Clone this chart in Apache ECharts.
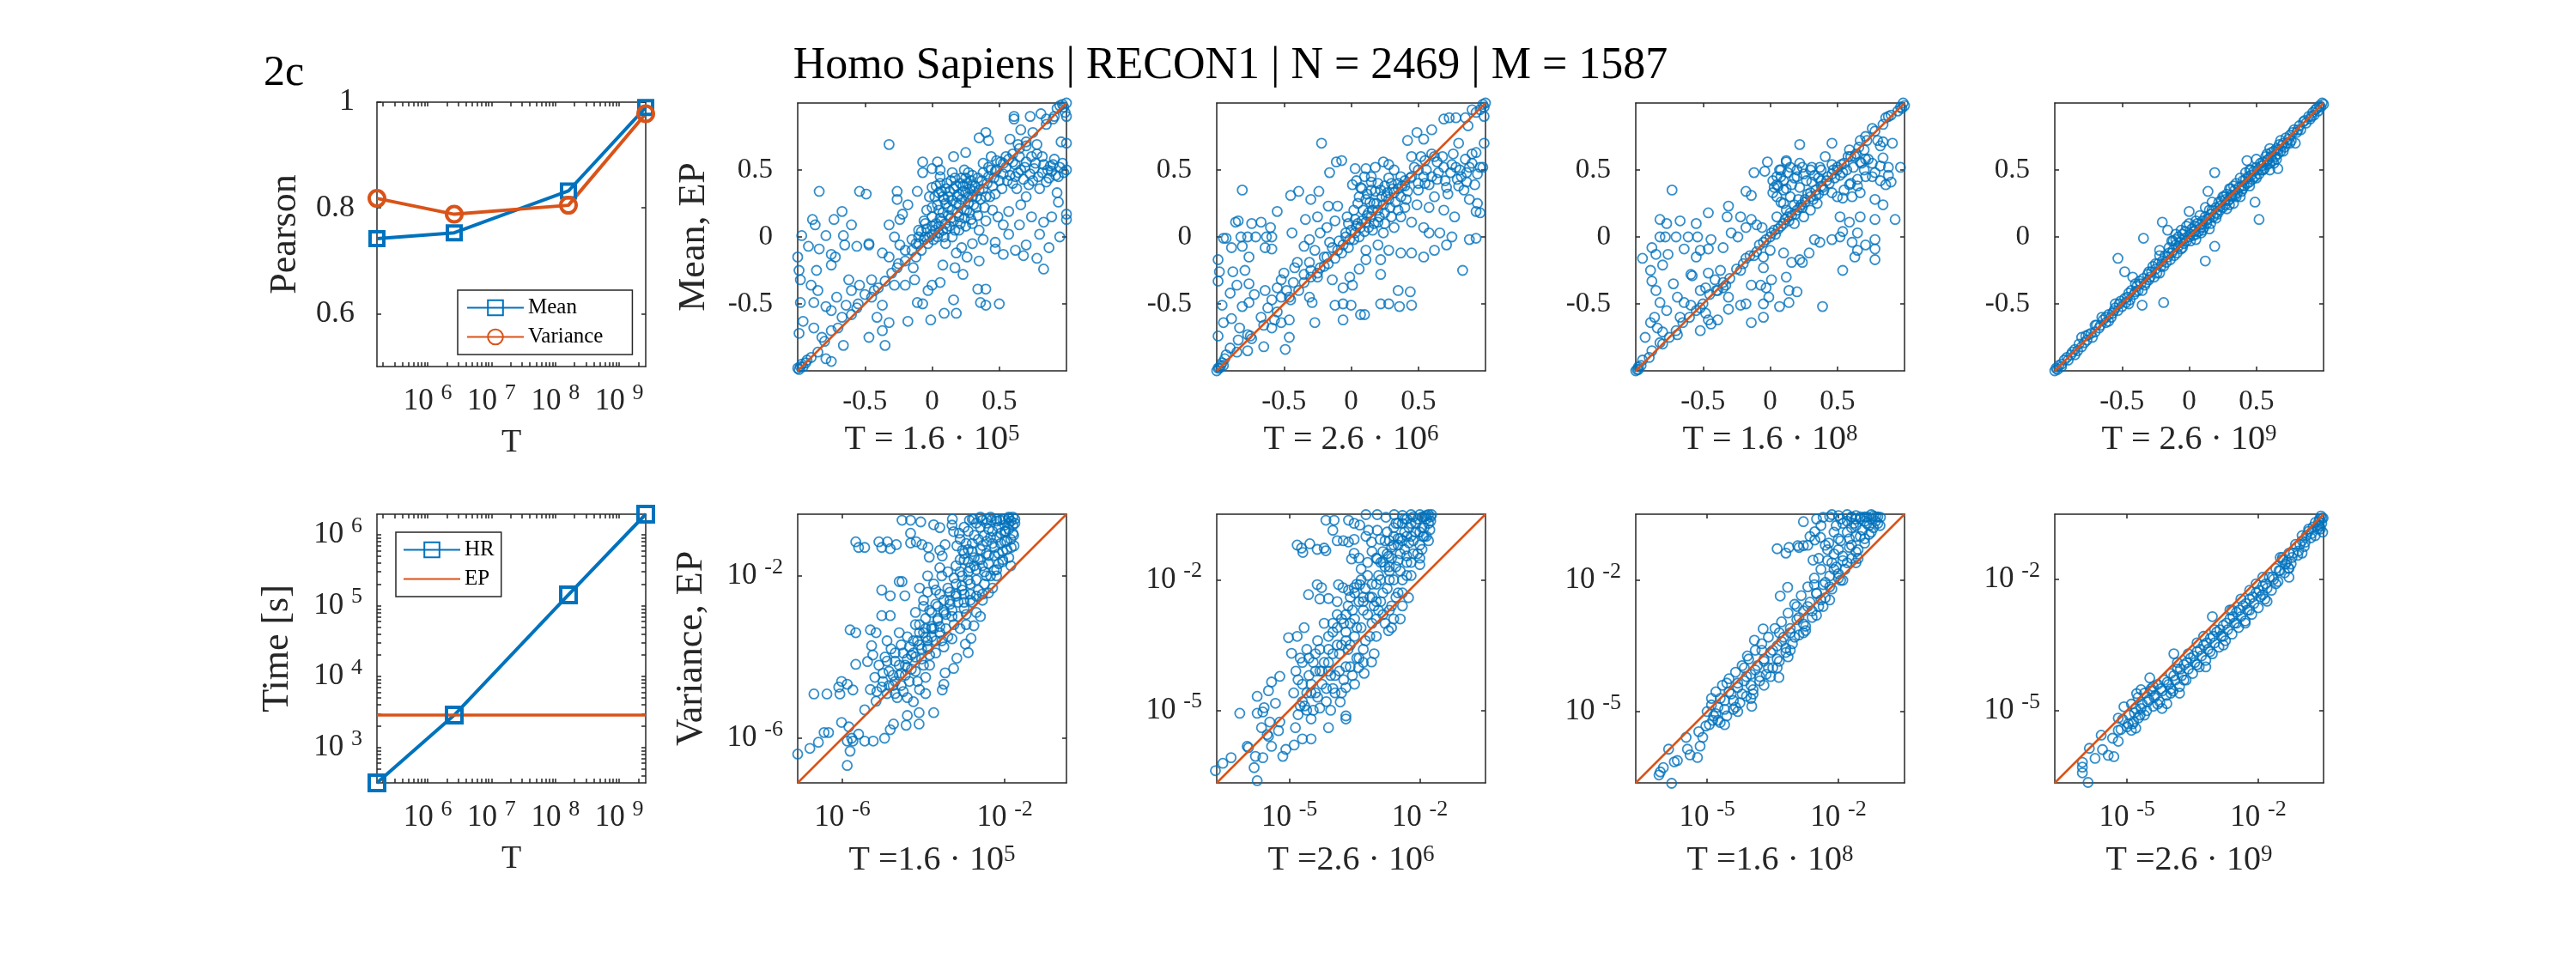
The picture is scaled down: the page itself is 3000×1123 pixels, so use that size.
<!DOCTYPE html>
<html lang="en">
<head>
<meta charset="UTF-8">
<title>Homo Sapiens | RECON1</title>
<script src="https://cdn.jsdelivr.net/npm/echarts@6/dist/echarts.min.js"></script>
<style>html,body{margin:0;padding:0;background:#fff;}#container{width:3000px;height:1123px;}</style>
</head>
<body>
<div id="container"></div>
<script>
// sampling times T of the four runs
var T = [1.6e5, 2.6e6, 1.6e8, 2.6e9];
// Pearson correlation HR vs EP
var pearsonMean = [0.742, 0.753, 0.832, 0.990];
var pearsonVar = [0.818, 0.788, 0.805, 0.978];
// run time [s]
var timeHR = [316, 2857, 1.42e5, 1.95e6];
var timeEP = [2857, 2857, 2857, 2857];

// tick labels
var pearsonTicks = [0.6, 0.8, 1];
var meanTicks = [-0.5, 0, 0.5];
var decadesT = [6, 7, 8, 9];
var decadesTime = [3, 4, 5, 6];
var varTicks = [[-6, -2], [-5, -2], [-5, -2], [-5, -2]];
// axis limits of the scatter panels (mean linear, variance as log10)
var meanLim = [-1, 1];
var varLim = [[-7.1, -0.48], [-6.67, -0.49], [-6.63, -0.49], [-6.65, -0.51]];

// mean: [HR, EP] pairs
var meanPts1 = [[1.0,1.0],[0.98,0.97],[0.95,0.98],[0.99,0.93],[1.0,0.9],[0.93,0.96],[0.97,0.99],
[0.61,0.9],[0.61,0.88],[0.73,0.9],[0.81,0.92],[0.85,0.88],[0.91,0.9],[0.66,0.8],[0.4,0.78],[0.35,0.74],[0.42,0.72],[-0.32,0.69],
[0.58,0.73],[0.64,0.69],[0.7,0.71],[0.78,0.69],[0.96,0.71],[1.0,0.7],[0.16,0.6],[0.25,0.63],
[0.44,0.6],[0.51,0.56],[0.57,0.58],[0.62,0.54],[0.7,0.56],[0.76,0.51],[0.83,0.54],[0.89,0.49],[0.94,0.45],[1.0,0.5],[0.79,0.45],[0.68,0.43],[0.62,0.45],[0.53,0.47],[0.47,0.49],[0.85,0.41],[0.72,0.39],[0.91,0.58],[0.74,0.6],[0.55,0.52],[0.66,0.5],[0.88,0.53],[0.97,0.55],[0.6,0.4],[0.8,0.36],[0.93,0.33],[0.52,0.36],[0.7,0.3],
[-0.07,0.56],[0.04,0.56],[-0.07,0.48],[0.0,0.51],[0.06,0.5],[-0.84,0.34],[-0.54,0.34],[-0.49,0.32],[-0.26,0.34],[-0.11,0.34],
[-0.97,0.01],[-0.89,0.13],[-0.87,0.09],[-0.79,0.01],[-0.73,0.13],[-0.67,0.19],[-0.66,0.01],[-0.6,0.09],[-0.65,-0.06],[-0.56,-0.07],[-0.47,-0.06],[-0.92,-0.07],[-0.84,-0.09],[-0.75,-0.13],[-0.72,-0.15],[-1.0,-0.15],[-0.99,-0.25],[-0.98,-0.32],[-0.86,-0.25],[-0.75,-0.21],[-0.9,-0.36],[-0.85,-0.4],[-0.88,-0.49],[-0.98,-0.49],[-0.79,-0.52],[-0.71,-0.45],[-0.75,-0.55],[-0.96,-0.63],[-0.88,-0.68],[-0.99,-0.72],[-0.82,-0.75],[-0.75,-0.7],[-0.67,-0.6],[-0.64,-0.51],[-0.66,-0.81],[-0.75,-0.93],[-0.79,-0.91],[-0.9,-0.9],[-0.94,-0.94],[-1.0,-0.98],[-0.98,-0.97],[-0.97,-0.95],[-0.99,-0.99],[-0.96,-0.97],
[-0.6,-0.4],[-0.54,-0.36],[-0.62,-0.32],[-0.5,-0.43],[-0.45,-0.32],[-0.43,-0.4],[-0.56,-0.53],[-0.47,-0.75],[-0.37,-0.7],[-0.35,-0.81],[-0.32,-0.64],[-0.41,-0.6],[-0.37,-0.51],[-0.28,-0.36],[-0.26,-0.23],[-0.32,-0.15],[-0.37,-0.12],[-0.47,-0.05],[-0.28,0.0],[-0.24,-0.06],[-0.32,0.09],[-0.24,0.13],[-0.22,0.17],[-0.26,0.28],[-0.18,0.24],[-0.18,-0.63],[-0.11,-0.49],[-0.07,-0.5],[-0.01,-0.62],[0.09,-0.57],[0.18,-0.57],[0.06,-0.34],[0.0,-0.36],[-0.03,-0.4],[-0.2,-0.36],[-0.13,-0.32],[-0.14,-0.23],[0.16,-0.47],[0.34,-0.39],[0.4,-0.39],[0.36,-0.49],[0.4,-0.51],[0.5,-0.5],[0.23,-0.28],[0.17,-0.23],[0.08,-0.21],[0.35,-0.18],
[0.47,-0.09],[0.53,-0.13],[0.62,-0.1],[0.68,-0.14],[0.78,-0.16],[0.83,-0.24],[0.87,-0.08],[0.95,0.0],[0.8,0.02],[0.7,-0.06],[0.57,0.02],[0.47,-0.04],[0.53,0.09],[0.65,0.09],[0.74,0.15],[0.83,0.11],[0.89,0.15],[1.0,0.17],[1.0,0.13],[0.94,0.26],[0.66,0.24],[0.57,0.19],[0.49,0.15],
[-0.3,-0.27],[-0.25,-0.2],[-0.2,-0.18],[-0.15,-0.1],[-0.12,-0.15],[-0.1,-0.05],[-0.08,-0.1],[-0.05,0.0],[-0.03,-0.05],[0.0,0.02],[0.02,0.05],[0.04,0.0],[0.05,0.08],[0.07,0.12],[0.08,0.05],[0.1,0.1],[0.12,0.16],[0.13,0.08],[0.15,0.2],[0.16,0.12],[0.18,0.25],[0.2,0.15],[0.22,0.28],[0.24,0.2],[0.25,0.33],[0.27,0.25],[0.28,0.18],[0.3,0.3],[0.32,0.38],[0.33,0.22],[0.35,0.35],[0.37,0.42],[0.4,0.3],[0.42,0.45],[0.45,0.38],[0.48,0.5],[0.5,0.42],
[0.0,0.37],[0.03,0.38],[0.06,0.4],[0.1,0.36],[0.14,0.42],[0.18,0.38],[0.22,0.44],[0.26,0.4],[0.3,0.46],[0.05,0.33],[0.12,0.3],[0.2,0.32],[0.28,0.36],[0.34,0.44],[0.38,0.48],
[0.15,0.0],[0.2,0.05],[0.25,0.08],[0.3,0.1],[0.35,0.05],[0.4,0.12],[0.45,0.2],[0.3,-0.05],[0.22,-0.08],[0.38,-0.02],[0.1,-0.05],[0.18,-0.12],[0.26,-0.15],
[-0.45,-0.45],[-0.4,-0.38],[-0.35,-0.33],[-0.55,-0.5],[-0.6,-0.58],[-0.7,-0.68],[-0.8,-0.78],[-0.85,-0.86],[-0.93,-0.92],[-0.2,-0.1],[-0.15,-0.02],[-0.1,0.05],[-0.05,0.1],[0.0,0.15],[0.05,0.2],[0.1,0.25],[0.08,0.3],[0.6,0.62],[0.65,0.66],[0.7,0.68],[0.75,0.78],[0.85,0.84],[0.9,0.88],[0.55,0.6],
[-0.12,-0.05],[-0.1,0.0],[-0.08,0.04],[-0.06,-0.02],[-0.04,0.06],[-0.02,0.0],[0.0,0.08],[0.01,-0.02],[0.03,0.1],[0.05,0.03],[0.06,0.14],[0.08,0.18],[0.09,0.0],[0.11,0.06],[0.12,0.22],[0.14,0.14],[0.15,0.27],[0.17,0.05],[0.19,0.18],[0.2,0.24],[0.21,0.1],[0.23,0.34],[0.24,0.14],[0.26,0.2],[0.27,0.3],[0.29,0.13],[0.3,0.38],[0.31,0.24],[0.33,0.3],[0.34,0.16],[0.36,0.28],[0.38,0.36],[0.39,0.22],[0.41,0.4],[0.43,0.3],[0.44,0.5],[0.46,0.44],[0.47,0.32],[0.02,0.3],[0.04,0.24],[0.07,0.34],[0.09,0.28],[0.11,0.4],[0.13,0.34],[0.16,0.36],[0.17,0.44],[0.19,0.3],[0.21,0.4],[0.23,0.38],[0.25,0.44],[0.27,0.48],[0.29,0.42],[0.31,0.34],[0.06,0.45],[0.15,0.48],[0.24,0.5],[-0.02,0.3],[-0.04,0.2],[-0.06,0.12],[0.0,0.22],[0.58,0.46],[0.64,0.48],[0.69,0.52],[0.73,0.47],[0.77,0.55],[0.82,0.48],[0.86,0.5],[0.9,0.54],[0.95,0.52],[0.98,0.48],[0.6,0.56],[0.65,0.6],[0.56,0.42],[0.75,0.42],[0.87,0.44],[0.92,0.46],[0.63,0.36],[0.53,0.55],[0.48,0.57],[0.42,0.52],[0.38,0.55],[0.82,0.6],[0.78,0.62]];

var meanPts2 = [[0.98,0.99],[0.96,0.95],[0.93,0.93],[0.9,0.95],[0.85,0.89],[0.78,0.89],[0.73,0.89],[0.69,0.88],[0.99,0.9],[1.0,1.0],[0.99,0.97],[-1.0,-1.0],[-0.98,-0.98],[-0.97,-0.96],
[0.87,0.83],[0.6,0.8],[0.49,0.78],[0.42,0.72],[0.54,0.73],[-0.22,0.7],[0.8,0.7],[0.99,0.7],[0.93,0.63],[0.85,0.58],
[0.45,0.6],[0.52,0.6],[0.6,0.62],[0.64,0.56],[0.69,0.52],[0.75,0.54],[0.81,0.5],[0.88,0.52],[0.96,0.52],[0.98,0.52],[0.79,0.43],[0.86,0.41],[0.92,0.39],[0.84,0.35],[0.88,0.28],[0.94,0.25],[0.71,0.37],[0.64,0.43],[0.58,0.39],[0.54,0.45],[0.32,0.5],[0.37,0.45],[0.28,0.54],[0.24,0.56],[0.18,0.52],[0.11,0.51],[0.03,0.51],[0.01,0.39],[0.07,0.37],[0.15,0.41],[0.22,0.35],[0.32,0.33],[0.41,0.28],[0.49,0.24],[0.58,0.22],[0.69,0.2],
[-0.11,0.56],[-0.07,0.57],[-0.16,0.48],[-0.45,0.31],[-0.39,0.34],[-0.3,0.28],[-0.24,0.34],[-0.17,0.23],[-0.1,0.23],[-0.55,0.19],[-0.81,0.35],
[-0.95,-0.01],[-0.93,-0.01],[-0.86,0.11],[-0.84,0.12],[-0.82,0.0],[-0.77,0.0],[-0.74,0.1],[-0.71,0.0],[-0.67,0.11],[-0.63,0.0],[-0.6,0.07],[-0.59,0.0],[-0.89,-0.08],[-0.81,-0.07],[-0.76,-0.15],[-0.64,-0.08],[-0.59,-0.09],
[-0.99,-0.17],[-0.98,-0.26],[-0.99,-0.33],[-0.88,-0.26],[-0.79,-0.25],[-0.85,-0.36],[-0.76,-0.35],[-0.9,-0.42],[-0.96,-0.51],[-0.81,-0.52],[-0.76,-0.49],[-0.89,-0.61],[-0.95,-0.64],[-0.83,-0.68],[-0.77,-0.73],[-0.74,-0.76],[-0.99,-0.74],[-0.84,-0.77],[-0.9,-0.83],[-0.77,-0.85],[-0.93,-0.88],[-0.96,-0.94],[-0.99,-0.98],[-0.95,-0.96],[-0.94,-0.91],
[-0.72,-0.43],[-0.67,-0.6],[-0.64,-0.4],[-0.62,-0.53],[-0.59,-0.47],[-0.55,-0.38],[-0.52,-0.32],[-0.5,-0.27],[-0.52,-0.45],[-0.48,-0.4],[-0.46,-0.45],[-0.43,-0.34],[-0.42,-0.23],[-0.39,-0.4],[-0.35,-0.34],[-0.31,-0.45],[-0.29,-0.49],[-0.46,-0.62],[-0.52,-0.64],[-0.46,-0.75],[-0.65,-0.82],[-0.49,-0.84],[-0.27,-0.64],[-0.59,-0.68],[-0.57,-0.62],
[-0.34,0.13],[-0.25,0.15],[-0.35,-0.07],[-0.44,0.03],[-0.31,-0.02],[-0.27,-0.1],[-0.23,0.03],[-0.18,0.07],[-0.12,0.12],[-0.16,-0.04],[-0.4,-0.19],[-0.31,-0.19],[-0.23,-0.23],[-0.18,-0.15],[-0.1,-0.1],[-0.06,-0.06],[-0.01,-0.02],[0.03,0.03],[0.07,0.07],[0.11,0.11],[0.15,0.15],[0.2,0.2],[0.24,0.24],[0.28,0.28],[-0.04,0.03],[0.03,0.13],[0.09,0.2],[0.11,0.28],[0.2,0.11],[0.24,0.03],[0.32,0.07],[0.37,0.15],[0.45,0.11],[0.54,0.07],[0.58,0.03],[0.66,0.03],[0.75,0.0],[0.71,-0.06],[0.62,-0.1],[0.54,-0.15],[0.45,-0.12],[0.37,-0.12],[0.28,-0.1],[0.2,-0.06],[0.11,-0.1],[0.11,-0.17],[0.22,-0.17],[0.22,-0.28],[0.06,-0.24],[-0.01,-0.3],[-0.14,-0.32],[-0.06,-0.38],[0.01,-0.36],[-0.12,-0.51],[-0.06,-0.5],[0.0,-0.51],[-0.06,-0.62],[0.07,-0.58],[0.1,-0.58],[0.22,-0.5],[0.28,-0.5],[0.36,-0.52],[0.35,-0.4],[0.44,-0.41],[0.45,-0.51],[0.83,-0.25],[0.88,-0.02],[0.93,-0.01],[0.96,0.18],[0.77,0.15],[0.93,0.19],
[0.35,0.36],[0.4,0.42],[0.45,0.45],[0.5,0.5],[0.55,0.57],[0.62,0.6],[-0.2,-0.22],[-0.25,-0.27],[-0.3,-0.3],[-0.45,-0.47],[-0.55,-0.56],[-0.65,-0.66],[-0.75,-0.74],[-0.85,-0.86],[0.05,0.1],[0.13,0.18],[0.17,0.25],[0.26,0.3],[0.3,0.4],[0.38,0.38],[0.15,0.35],[0.05,0.25],[-0.02,0.1],
[-0.2,-0.15],[-0.17,-0.2],[-0.14,-0.08],[-0.12,-0.16],[-0.09,-0.03],[-0.07,-0.12],[-0.04,0.0],[-0.02,-0.08],[0.0,0.05],[0.02,-0.02],[0.04,0.08],[0.06,0.0],[0.08,0.12],[0.1,0.04],[0.12,0.16],[0.13,0.07],[0.16,0.2],[0.17,0.1],[0.19,0.25],[0.21,0.15],[0.23,0.3],[0.25,0.18],[0.27,0.33],[0.29,0.22],[0.31,0.36],[0.33,0.26],[0.35,0.4],[0.37,0.3],[0.4,0.38],[0.42,0.34],[0.44,0.44],[0.06,0.3],[0.08,0.36],[0.12,0.32],[0.14,0.26],[0.18,0.34],[0.2,0.4],[0.25,0.38],[0.28,0.44],[0.15,0.45],[0.04,0.42],[0.1,0.45],[0.02,0.2],[-0.03,0.15],[0.5,0.35],[0.55,0.4],[0.6,0.45],[0.65,0.48],[0.7,0.42],[0.74,0.48],[0.78,0.52],[0.82,0.45],[0.86,0.48],[0.9,0.55],[0.94,0.47],[0.62,0.3],[0.72,0.32],[0.8,0.38],[0.5,0.4],[0.56,0.5],[0.47,0.52],[0.68,0.6],[0.76,0.62],[0.9,0.62],[0.3,0.15],[0.35,0.2],[0.4,0.22],[0.16,0.05],[0.25,0.1],[-0.3,-0.25],[-0.35,-0.28],[-0.25,-0.3]];

var meanPts3 = [[0.99,1.0],[0.97,0.97],[0.95,0.94],[1.0,0.98],[0.98,0.96],[0.88,0.9],[0.86,0.89],[0.76,0.81],[0.71,0.75],[0.67,0.72],[0.22,0.69],[0.8,0.72],[0.84,0.71],[0.91,0.7],[0.82,0.68],[0.46,0.7],[0.41,0.6],[-1.0,-1.0],[-0.98,-0.99],[-0.96,-0.96],
[0.59,0.65],[0.63,0.6],[0.67,0.56],[0.71,0.58],[0.76,0.55],[0.82,0.53],[0.88,0.52],[0.97,0.52],[0.84,0.59],[0.78,0.48],[0.71,0.45],[0.65,0.43],[0.59,0.39],[0.54,0.48],[0.5,0.52],[0.46,0.54],[0.37,0.52],[0.31,0.52],[0.24,0.52],[0.2,0.45],[0.16,0.39],[0.07,0.5],[0.12,0.56],[0.05,0.39],[0.03,0.37],[0.12,0.36],[0.22,0.37],[0.31,0.41],[0.39,0.37],[0.46,0.33],[0.54,0.29],[0.61,0.3],[0.67,0.33],[0.78,0.28],[0.84,0.24],[0.9,0.41],[0.86,0.39],[0.93,0.13],
[-0.02,0.56],[0.12,0.57],[-0.12,0.48],[-0.04,0.49],[-0.18,0.34],[-0.14,0.31],[-0.31,0.23],[-0.46,0.18],[-0.32,0.15],[-0.22,0.15],[-0.14,0.13],[-0.73,0.35],
[-0.82,0.13],[-0.77,0.1],[-0.67,0.12],[-0.55,0.1],[-0.82,0.0],[-0.78,0.0],[-0.7,0.0],[-0.61,0.0],[-0.54,0.0],[-0.44,-0.02],[-0.35,-0.08],[-0.29,0.03],[-0.24,0.0],[-0.18,0.07],[-0.1,0.09],[-0.06,0.07],[-0.88,-0.08],[-0.64,-0.09],[-0.52,-0.1],[-0.46,-0.09],[-0.95,-0.16],[-0.85,-0.13],[-0.76,-0.13],[-0.55,-0.15],
[-0.89,-0.25],[-0.8,-0.21],[-0.88,-0.33],[-0.85,-0.4],[-0.72,-0.35],[-0.59,-0.28],[-0.58,-0.29],[-0.82,-0.49],[-0.77,-0.55],[-0.86,-0.6],[-0.89,-0.64],[-0.93,-0.75],[-0.84,-0.68],[-0.8,-0.71],[-0.75,-0.75],[-0.69,-0.73],[-0.82,-0.79],[-0.88,-0.85],[-0.95,-0.92],[-0.98,-0.97],[-0.99,-0.99],
[-0.69,-0.45],[-0.64,-0.49],[-0.59,-0.51],[-0.52,-0.4],[-0.48,-0.38],[-0.46,-0.27],[-0.41,-0.32],[-0.37,-0.25],[-0.39,-0.4],[-0.33,-0.36],[-0.31,-0.45],[-0.52,-0.53],[-0.48,-0.57],[-0.46,-0.62],[-0.39,-0.62],[-0.52,-0.7],[-0.31,-0.54],[-0.44,-0.65],[-0.67,-0.6],
[0.1,-0.12],[0.16,-0.19],[0.22,-0.17],[0.29,-0.12],[0.33,-0.02],[0.37,-0.04],[0.46,-0.02],[0.52,0.0],[0.54,0.04],[0.61,-0.04],[0.65,-0.1],[0.71,-0.06],[0.78,-0.02],[0.65,0.03],[0.52,0.15],[0.59,0.11],[0.67,0.15],[0.78,0.13],[0.63,-0.15],[0.54,-0.25],[0.78,-0.17],[0.78,-0.09],[0.24,-0.19],[0.12,-0.3],[0.14,-0.4],[0.2,-0.41],[0.39,-0.52],[-0.22,-0.51],[-0.18,-0.5],[-0.05,-0.5],[-0.14,-0.36],[-0.07,-0.36],[-0.03,-0.38],[0.01,-0.32],[-0.14,-0.64],[-0.05,-0.6],[0.07,-0.52],[0.14,-0.49],[-0.01,-0.45],[-0.05,-0.23],
[-0.4,-0.4],[-0.35,-0.34],[-0.3,-0.31],[-0.25,-0.24],[-0.2,-0.2],[-0.15,-0.14],[-0.1,-0.11],[-0.05,-0.04],[0.0,0.0],[0.03,0.05],[0.06,0.06],[0.1,0.1],[0.13,0.15],[0.16,0.16],[0.2,0.2],[0.23,0.24],[0.26,0.26],[0.3,0.3],[0.34,0.35],[0.38,0.38],[0.42,0.42],[0.46,0.47],[0.5,0.5],[0.55,0.55],[0.6,0.6],[0.66,0.67],[0.72,0.72],[0.78,0.79],[0.84,0.84],[0.9,0.91],[-0.5,-0.5],[-0.6,-0.6],[-0.7,-0.7],[-0.8,-0.8],[-0.9,-0.9],[0.05,0.15],[0.1,0.25],[0.15,0.3],[0.05,0.3],[0.1,0.35],[0.18,0.1],[0.25,0.15],[0.3,0.2],[0.35,0.25],[0.0,-0.1],[-0.05,-0.15],[0.08,0.45],[0.02,0.42],
[0.05,0.45],[0.08,0.5],[0.1,0.42],[0.13,0.48],[0.15,0.52],[0.18,0.44],[0.2,0.5],[0.22,0.55],[0.25,0.47],[0.27,0.42],[0.3,0.5],[0.33,0.46],[0.36,0.44],[0.38,0.5],[0.06,0.38],[0.02,0.33],[0.08,0.26],[0.12,0.2],[0.14,0.12],[0.18,0.24],[0.21,0.28],[0.24,0.22],[0.28,0.32],[0.32,0.28],[0.36,0.32],[0.4,0.35],[0.44,0.4],[0.48,0.44],[0.52,0.46],[0.57,0.5],[0.62,0.52],[0.68,0.55],[0.73,0.58],[0.58,0.6],[0.64,0.62],[0.7,0.65],[-0.22,-0.25],[-0.18,-0.16],[-0.12,-0.14],[-0.08,-0.06],[-0.03,-0.02],[0.01,0.03],[0.04,0.02],[0.08,0.08],[0.11,0.13],[0.15,0.18],[0.19,0.17],[0.22,0.22],[0.26,0.28],[0.3,0.33],[0.34,0.31],[0.38,0.42],[0.43,0.45],[0.47,0.5],[0.53,0.54],[-0.35,-0.38],[-0.45,-0.43],[-0.55,-0.55],[-0.65,-0.64],[0.5,0.3],[0.55,0.35],[0.6,0.4],[0.65,0.38],[0.7,0.5],[0.76,0.45],[0.82,0.42],[0.88,0.46]];

var meanPts4 = [[-1.0,-1.0],[-0.99,-0.98],[-0.98,-0.99],[-0.97,-0.96],[-0.95,-0.95],[-0.93,-0.92],[-0.91,-0.9],[-0.9,-0.92],[-0.87,-0.86],[-0.85,-0.84],[-0.83,-0.85],[-0.8,-0.75],[-0.78,-0.79],[-0.76,-0.77],[-0.73,-0.72],[-0.7,-0.71],[-0.69,-0.66],[-0.66,-0.66],[-0.64,-0.62],[-0.62,-0.64],[-0.6,-0.58],[-0.58,-0.6],[-0.56,-0.55],[-0.55,-0.53],[-0.53,-0.16],[-0.53,-0.55],[-0.51,-0.48],[-0.5,-0.52],[-0.48,-0.26],[-0.48,-0.46],[-0.46,-0.45],[-0.44,-0.47],[-0.43,-0.4],[-0.42,-0.3],[-0.41,-0.43],[-0.39,-0.37],[-0.38,-0.4],[-0.36,-0.35],[-0.35,-0.51],[-0.34,-0.01],[-0.34,-0.31],[-0.33,-0.36],[-0.31,-0.28],[-0.3,-0.32],[-0.28,-0.26],[-0.27,-0.22],[-0.26,-0.3],[-0.25,-0.24],[-0.23,-0.2],[-0.22,-0.27],[-0.2,-0.18],[-0.2,0.11],[-0.19,-0.49],[-0.19,-0.22],[-0.18,-0.14],[-0.17,-0.19],[-0.16,0.05],[-0.15,-0.12],[-0.14,-0.17],[-0.13,-0.03],[-0.12,-0.1],[-0.11,-0.14],[-0.1,-0.06],[-0.09,-0.12],[-0.08,0.0],[-0.07,-0.04],[-0.06,-0.09],[-0.05,0.02],[-0.04,-0.05],[-0.03,0.04],[-0.02,-0.03],[0.0,0.19],[0.0,0.0],[0.01,-0.03],[0.02,0.06],[0.03,0.01],[0.04,0.08],[0.05,0.02],[0.06,0.1],[0.07,0.04],[0.08,0.09],[0.09,0.03],[0.1,0.12],[0.11,0.07],[0.12,-0.18],[0.12,0.15],[0.13,0.1],[0.14,0.34],[0.15,0.14],[0.16,0.1],[0.17,0.2],[0.18,0.15],[0.19,-0.07],[0.19,0.48],[0.2,0.22],[0.21,0.17],[0.22,0.26],[0.23,0.2],[0.24,0.27],[0.25,0.22],[0.26,0.3],[0.27,0.24],[0.28,0.32],[0.29,0.27],[0.3,0.28],[0.31,0.36],[0.32,0.3],[0.33,0.38],[0.34,0.31],[0.35,0.4],[0.36,0.33],[0.37,0.37],[0.38,0.44],[0.39,0.34],[0.4,0.42],[0.41,0.38],[0.42,0.48],[0.43,0.57],[0.43,0.4],[0.44,0.45],[0.45,0.41],[0.46,0.5],[0.47,0.43],[0.48,0.49],[0.49,0.26],[0.49,0.45],[0.5,0.52],[0.52,0.13],[0.52,0.47],[0.53,0.55],[0.54,0.5],[0.55,0.56],[0.56,0.51],[0.57,0.6],[0.58,0.54],[0.59,0.58],[0.6,0.55],[0.61,0.63],[0.62,0.57],[0.63,0.64],[0.64,0.6],[0.65,0.66],[0.66,0.51],[0.66,0.62],[0.67,0.69],[0.68,0.72],[0.68,0.64],[0.7,0.7],[0.71,0.67],[0.72,0.74],[0.73,0.7],[0.75,0.76],[0.76,0.72],[0.78,0.8],[0.79,0.7],[0.8,0.78],[0.82,0.83],[0.83,0.8],[0.85,0.86],[0.87,0.85],[0.89,0.9],[0.9,0.88],[0.92,0.93],[0.93,0.91],[0.95,0.96],[0.96,0.94],[0.97,0.98],[0.98,0.97],[0.99,1.0],[1.0,0.99],
[-0.3,-0.26],[-0.25,-0.2],[-0.15,-0.08],[-0.1,-0.02],[-0.05,-0.08],[0.05,0.12],[0.1,0.05],[0.15,0.2],[0.2,0.14],[0.25,0.3],[0.3,0.24],[0.35,0.3],[0.4,0.36],[0.45,0.5],[0.5,0.44],[0.55,0.5],[0.6,0.66],[0.65,0.58],[0.7,0.64],[0.75,0.7],[-0.45,-0.5],[-0.4,-0.35],[-0.35,-0.4],[-0.55,-0.5],[-0.6,-0.63],[-0.65,-0.6],[-0.7,-0.66],[-0.75,-0.73],[-0.8,-0.82],[-0.85,-0.88],[0.17,0.26],[0.12,0.22],[-0.02,0.08],[0.08,0.16],[0.28,0.21],[0.33,0.25],[0.38,0.3],[-0.06,0.05],[-0.12,-0.03],[-0.22,-0.14],[0.58,0.62],[0.63,0.55],
[-0.95,-0.97],[-0.88,-0.88],[-0.82,-0.8],[-0.77,-0.74],[-0.72,-0.75],[-0.67,-0.68],[-0.62,-0.6],[-0.57,-0.57],[-0.52,-0.5],[-0.47,-0.49],[-0.45,-0.42],[-0.4,-0.41],[-0.37,-0.33],[-0.32,-0.34],[-0.29,-0.3],[-0.24,-0.27],[-0.21,-0.22],[-0.16,-0.15],[-0.13,-0.12],[-0.08,-0.07],[-0.03,-0.01],[0.01,0.02],[0.04,0.04],[0.09,0.07],[0.13,0.13],[0.16,0.17],[0.2,0.18],[0.23,0.23],[0.27,0.28],[0.31,0.31],[0.34,0.35],[0.39,0.38],[0.42,0.43],[0.46,0.46],[0.51,0.5],[0.54,0.53],[0.58,0.57],[0.61,0.6],[0.66,0.65],[0.69,0.68],[0.74,0.73],[0.77,0.78],[0.81,0.8],[0.86,0.87],[0.91,0.9],[0.94,0.95],[-0.22,-0.1],[-0.1,0.02],[0.0,0.1],[0.05,-0.02],[0.15,0.06],[0.3,0.36],[0.45,0.38],[0.5,0.58],[0.6,0.5]];

// variance: [log10 HR, log10 EP] pairs
var varPts1 = [[-4.53,-0.63],[-4.32,-0.63],[-4.07,-0.67],[-3.29,-0.6],[-2.87,-0.63],[-2.76,-0.6],[-2.55,-0.63],[-2.33,-0.63],[-2.12,-0.63],[-1.91,-0.58],[-1.8,-0.55],[-3.75,-0.74],[-3.6,-0.81],[-4.32,-0.95],[-3.26,-0.91],[-3.12,-0.95],
[-5.67,-1.16],[-5.6,-1.3],[-5.45,-1.3],[-5.1,-1.16],[-5.03,-1.3],[-4.89,-1.16],[-4.82,-1.33],[-4.67,-1.23],[-4.32,-1.19],[-4.18,-1.16],[-4.04,-1.23],[-3.89,-1.3],[-3.86,-1.54],[-3.6,-1.37],[-3.54,-1.51],[-3.47,-1.23],[-3.18,-1.26],[-3.04,-1.37],[-1.98,-0.9],[-1.84,-1.3],[-1.77,-1.26],
[-5.81,-3.33],[-5.67,-3.4],[-4.6,-2.14],[-4.53,-2.14],[-5.03,-2.35],[-4.82,-2.49],[-4.46,-2.49],[-5.03,-2.98],[-4.82,-2.98],[-5.31,-3.33],[-5.17,-3.4],[-5.28,-3.72],[-5.67,-4.18],[-5.38,-4.11],[-6.02,-4.6],[-5.88,-4.67],[-6.09,-4.74],[-5.74,-4.81],[-6.7,-4.91],[-6.38,-4.91],[-6.06,-4.91],[-5.31,-4.8],[-5.03,-4.74],[-5.17,-5.09],[-5.45,-5.3],[-6.02,-5.61],[-5.84,-5.72],[-5.6,-5.9],[-5.77,-6.0],[-5.74,-6.07],[-5.45,-6.07],[-5.24,-6.07],[-4.96,-6.0],[-4.82,-5.79],[-4.74,-5.65],[-4.43,-5.68],[-4.11,-5.65],[-4.4,-5.44],[-4.11,-5.37],[-3.75,-5.37],[-3.54,-4.81],[-3.5,-4.67],[-3.47,-4.39],[-3.26,-4.28],[-3.18,-4.03],[-2.9,-3.89],[-2.83,-3.54],[-2.76,-3.23],[-2.97,-3.68],[-2.4,-2.42],[-2.26,-1.86],[-2.05,-1.65],[-5.88,-6.07],[-6.34,-5.86],[-6.45,-5.86],[-6.59,-6.1],[-6.8,-6.25],[-7.1,-6.39],[-5.81,-6.32],[-5.88,-6.67],
[-5.2,-4.5],[-5.1,-4.2],[-5.0,-4.6],[-4.95,-4.0],[-4.9,-4.9],[-4.85,-4.35],[-4.8,-3.8],[-4.75,-4.7],[-4.7,-4.1],[-4.65,-5.0],[-4.6,-4.45],[-4.55,-3.7],[-4.5,-4.85],[-4.45,-4.2],[-4.4,-3.5],[-4.35,-4.6],[-4.3,-3.95],[-4.25,-5.1],[-4.2,-4.35],[-4.15,-3.6],[-4.1,-4.8],[-4.05,-4.05],[-4.0,-3.4],[-3.95,-4.5],[-3.9,-3.8],[-5.25,-3.95],[-5.15,-4.85],[-4.9,-3.6],[-4.6,-3.4],[-4.7,-4.9],[-4.4,-5.0],[-4.2,-3.2],[-3.95,-4.9],[-3.85,-4.2],[-3.8,-3.5],
[-4.2,-2.9],[-4.1,-3.2],[-4.0,-2.6],[-3.95,-3.05],[-3.9,-2.4],[-3.85,-2.85],[-3.8,-3.3],[-3.75,-2.2],[-3.7,-2.7],[-3.65,-3.1],[-3.6,-2.45],[-3.55,-2.0],[-3.5,-2.9],[-3.45,-3.3],[-3.4,-2.3],[-3.35,-2.7],[-3.3,-3.55],[-3.25,-2.05],[-3.2,-2.5],[-3.15,-3.0],[-3.1,-1.9],[-3.05,-2.35],[-3.0,-2.8],[-2.95,-3.2],[-2.9,-2.1],[-2.85,-2.6],[-3.7,-3.6],[-3.5,-3.75],[-4.1,-2.3],[-3.9,-2.0],[-3.6,-1.8],
[-3.0,-1.6],[-2.95,-1.2],[-2.9,-0.9],[-2.85,-1.8],[-2.8,-1.4],[-2.75,-1.0],[-2.7,-2.1],[-2.65,-1.6],[-2.6,-0.8],[-2.55,-1.25],[-2.5,-1.9],[-2.45,-0.7],[-2.4,-1.5],[-2.35,-1.05],[-2.3,-2.3],[-2.25,-1.3],[-2.2,-0.6],[-2.15,-1.7],[-2.1,-0.95],[-2.05,-1.4],[-2.0,-0.75],[-1.95,-1.15],[-1.9,-1.55],[-1.85,-0.65],[-1.8,-0.95],[-1.75,-0.7],[-2.55,-2.6],[-2.7,-2.9],[-2.6,-3.0],[-2.45,-2.0],[-2.2,-2.0],[-1.85,-1.75],[-1.9,-0.85],[-2.05,-0.6],[-2.35,-0.55],[-2.6,-0.55],[-2.8,-0.6],
[-5.0,-4.4],[-4.9,-4.1],[-4.85,-4.7],[-4.75,-4.45],[-4.7,-3.9],[-4.6,-4.2],[-4.55,-4.7],[-4.5,-3.9],[-4.45,-4.45],[-4.4,-4.05],[-4.35,-3.75],[-4.3,-4.3],[-4.25,-3.6],[-4.2,-4.0],[-4.15,-4.6],[-4.1,-3.4],[-4.05,-3.8],[-4.0,-4.2],[-3.95,-3.3],[-3.9,-3.6],[-3.85,-3.95],[-3.8,-2.9],[-3.75,-3.3],[-3.7,-3.9],[-3.65,-2.75],[-3.6,-3.25],[-3.55,-3.6],[-3.5,-2.6],[-3.45,-2.95],[-3.4,-3.5],[-3.35,-2.4],[-3.3,-2.85],[-3.25,-3.2],[-3.2,-2.2],[-3.15,-2.65],[-3.1,-3.3],[-3.05,-2.0],[-3.0,-2.45],[-2.95,-2.95],[-2.9,-1.65],[-2.85,-2.2],[-2.8,-2.65],[-2.75,-1.55],[-2.7,-1.85],[-2.65,-2.35],[-2.6,-1.35],[-2.55,-1.75],[-2.5,-2.2],[-2.45,-1.15],[-2.4,-1.7],[-2.35,-2.0],[-2.3,-0.9],[-2.25,-1.5],[-2.2,-1.85],[-2.15,-0.8],[-2.1,-1.2],[-2.05,-1.6],[-2.0,-0.9],[-1.95,-1.35],[-1.9,-0.7],[-1.85,-1.1],[-1.8,-0.75],[-1.75,-0.6],[-1.78,-1.0],[-2.0,-1.15],[-2.2,-1.05],[-2.4,-0.85],[-2.5,-1.0],[-2.65,-1.1],[-2.8,-1.2],[-2.9,-1.35],[-3.0,-1.45],[-3.1,-1.6],[-3.2,-1.75],[-2.3,-1.2],[-2.15,-1.45],[-2.45,-1.45],[-2.6,-1.6],[-2.75,-1.75],[-2.9,-1.9],[-3.05,-2.25],[-3.2,-2.45],[-3.35,-2.6],[-3.5,-2.85],[-3.65,-3.05],[-3.8,-3.25],[-3.95,-3.5],[-4.1,-3.7],[-4.25,-3.9],[-4.4,-4.25],[-4.55,-4.4],[-4.7,-4.6],[-2.55,-2.45],[-2.7,-2.5],[-2.85,-2.45],[-3.0,-2.65],[-3.3,-3.0],[-3.6,-3.4],[-3.9,-3.75],[-2.0,-0.6],[-2.2,-0.65],[-2.45,-0.6],[-2.7,-0.7],[-3.0,-0.8],[-3.3,-0.75],[-1.9,-0.55],[-3.1,-1.1],[-3.4,-1.9],[-3.7,-2.35],[-4.0,-2.75]];

var varPts2 = [[-4.16,-0.63],[-3.97,-0.63],[-3.64,-0.63],[-3.24,-0.5],[-2.98,-0.5],[-2.78,-0.56],[-2.59,-0.5],[-2.4,-0.52],[-2.2,-0.5],[-2.0,-0.5],[-1.85,-0.52],[-1.73,-0.5],[-4.0,-0.86],[-3.18,-0.86],[-2.98,-0.86],[-3.51,-0.7],[-3.38,-0.74],
[-4.82,-1.2],[-4.72,-1.27],[-4.69,-1.37],[-4.53,-1.17],[-4.36,-1.3],[-4.2,-1.27],[-4.16,-1.33],
[-3.9,-1.1],[-3.76,-1.1],[-3.64,-1.13],[-3.51,-1.07],[-3.24,-1.0],[-3.11,-1.13],[-2.91,-1.07],[-2.7,-1.1],[-2.5,-1.05],[-2.3,-1.0],[-1.93,-1.0],
[-3.57,-1.52],[-3.51,-1.39],[-2.98,-1.52],[-2.85,-1.59],[-2.72,-1.46],
[-4.36,-2.11],[-4.26,-2.18],[-4.56,-2.34],[-4.3,-2.44],[-3.87,-2.11],[-3.77,-2.18],[-3.64,-2.24],[-3.51,-2.18],[-3.38,-2.11],[-4.1,-2.43],[-3.9,-2.5],
[-2.26,-2.41],[-2.65,-3.1],[-2.72,-3.17],[-2.45,-2.9],[-3.11,-3.89],[-3.28,-4.15],[-3.41,-4.02],[-3.7,-4.48],[-3.83,-4.81],[-3.7,-5.2],[-3.7,-5.13],[-4.1,-5.4],[-4.5,-5.66],[-4.7,-5.66],[-4.86,-5.4],[-4.89,-5.8],[-5.08,-5.9],[-5.15,-6.06],[-5.41,-5.83],[-5.25,-5.47],[-5.22,-5.27],[-5.48,-5.6],[-5.61,-6.09],[-5.78,-6.06],[-5.81,-6.32],[-5.74,-6.62],[-5.97,-5.83],[-5.94,-5.86],[-6.34,-6.09],[-6.53,-6.22],[-6.7,-6.39],[-6.14,-5.07],[-5.74,-5.07],[-5.61,-5.04],[-5.51,-5.56],[-5.64,-5.4],[-5.45,-5.27],[-5.74,-4.68],[-5.48,-4.55],[-5.41,-4.35],[-5.22,-4.22],[-5.58,-4.94],[-5.32,-4.84],[-4.95,-3.69],[-5.02,-3.33],[-4.82,-3.3],[-4.66,-3.1],
[-4.9,-4.6],[-4.85,-4.1],[-4.8,-5.1],[-4.75,-3.8],[-4.7,-4.4],[-4.65,-4.9],[-4.6,-3.6],[-4.55,-4.2],[-4.5,-5.2],[-4.45,-3.9],[-4.4,-4.6],[-4.35,-3.4],[-4.3,-4.95],[-4.25,-4.1],[-4.2,-3.0],[-4.15,-4.5],[-4.1,-3.6],[-4.05,-5.0],[-4.0,-3.2],[-3.95,-4.2],[-3.9,-2.8],[-3.85,-3.7],[-3.8,-4.6],[-3.75,-3.0],[-3.7,-4.0],[-3.65,-2.6],[-3.6,-3.5],[-3.55,-4.2],[-3.5,-2.3],[-3.45,-3.1],[-3.4,-3.8],[-3.35,-2.0],[-3.3,-2.7],[-3.25,-3.4],[-3.2,-1.9],[-3.15,-2.4],[-3.1,-3.0],[-3.05,-3.7],[-3.0,-2.1],[-2.95,-2.7],[-2.9,-1.6],[-2.85,-2.3],[-2.8,-3.0],[-2.75,-1.4],[-2.7,-2.0],[-2.65,-2.6],[-2.6,-1.2],[-2.55,-1.7],[-2.5,-2.3],[-2.45,-1.4],[-2.4,-2.0],[-2.35,-0.9],[-2.3,-1.6],[-2.25,-1.15],[-2.2,-0.7],[-2.15,-1.4],[-2.1,-0.9],[-2.05,-0.6],[-2.0,-1.2],[-1.95,-0.8],[-1.9,-0.55],[-1.85,-1.0],[-1.8,-0.7],[-1.75,-0.55],[-4.6,-5.0],[-4.4,-3.7],[-4.0,-4.5],[-3.6,-3.0],[-3.3,-2.4],[-3.0,-2.5],[-2.7,-1.7],[-2.4,-1.1],[-2.6,-0.8],[-2.8,-1.1],[-3.1,-1.35],[-3.4,-1.5],[-2.5,-0.7],[-2.3,-0.6],[-2.0,-1.65],[-2.2,-1.9],[-2.4,-2.6],[-2.6,-2.9],[-3.0,-3.3],[-3.3,-3.9],[-3.5,-4.4],[-3.7,-3.4],[-4.1,-4.1],
[-4.8,-4.3],[-4.75,-4.9],[-4.7,-3.9],[-4.6,-4.6],[-4.55,-3.8],[-4.5,-4.4],[-4.45,-5.0],[-4.4,-4.1],[-4.35,-4.7],[-4.3,-3.6],[-4.25,-4.4],[-4.2,-3.9],[-4.15,-4.8],[-4.1,-3.3],[-4.05,-4.2],[-4.0,-3.7],[-3.95,-4.6],[-3.9,-3.1],[-3.85,-4.1],[-3.8,-3.5],[-3.75,-4.3],[-3.7,-2.8],[-3.65,-3.6],[-3.6,-4.0],[-3.55,-2.7],[-3.5,-3.3],[-3.45,-3.8],[-3.4,-2.5],[-3.35,-3.1],[-3.3,-3.6],[-3.25,-2.2],[-3.2,-2.8],[-3.15,-3.3],[-3.1,-2.1],[-3.05,-2.6],[-3.0,-2.9],[-2.95,-1.9],[-2.9,-2.5],[-2.85,-2.8],[-2.8,-1.7],[-2.75,-2.2],[-2.7,-2.7],[-2.65,-1.5],[-2.6,-2.0],[-2.55,-2.4],[-2.5,-1.2],[-2.45,-1.8],[-2.4,-2.3],[-2.35,-1.3],[-2.3,-1.9],[-2.25,-0.8],[-2.2,-1.6],[-2.15,-1.1],[-2.1,-0.7],[-2.05,-1.4],[-2.0,-0.9],[-1.95,-1.3],[-1.9,-0.8],[-1.85,-0.6],[-1.8,-1.1],[-1.77,-0.85],[-1.75,-0.65],[-1.8,-0.5],[-1.95,-0.55],[-2.15,-0.55],[-2.35,-0.6],[-2.55,-0.7],[-2.75,-0.9],[-2.6,-1.0],[-2.4,-0.7],[-2.2,-1.0],[-2.0,-1.5],[-1.9,-1.0],[-2.45,-1.05],[-2.65,-1.25],[-2.85,-1.35],[-3.0,-1.5],[-3.2,-1.6],[-3.35,-1.75],[-2.3,-1.45],[-2.5,-1.55],[-2.7,-1.8],[-2.9,-2.0],[-3.1,-2.4],[-3.3,-2.5],[-3.5,-2.9],[-3.7,-3.2],[-3.9,-3.5],[-4.1,-3.9],[-4.3,-4.1],[-4.5,-4.6],[-4.7,-4.8],[-3.45,-2.1],[-3.6,-2.4],[-3.8,-2.9],[-4.0,-3.0]];

var varPts3 = [[-2.8,-0.66],[-2.54,-0.89],[-2.35,-0.56],[-2.15,-0.5],[-2.0,-0.52],[-1.8,-0.5],[-1.6,-0.52],[-1.4,-0.55],[-1.2,-0.53],[-1.04,-0.56],[-1.7,-0.56],
[-3.4,-1.28],[-3.2,-1.38],[-3.13,-1.25],[-2.93,-1.21],[-2.8,-1.21],[-2.54,-1.08],[-2.41,-1.02],[-2.22,-1.15],[-2.58,-1.54],
[-3.16,-2.16],[-3.33,-2.36],[-3.72,-3.11],[-3.92,-3.37],[-4.08,-3.73],[-3.36,-4.22],[-3.98,-4.88],
[-6.07,-6.38],[-6.0,-6.28],[-6.1,-6.45],[-5.81,-6.64],[-5.68,-6.12],[-5.75,-6.15],[-5.39,-5.99],[-5.22,-6.05],[-5.45,-5.86],[-5.16,-5.79],[-5.19,-5.46],[-5.48,-5.59],[-5.03,-5.33],[-5.1,-5.59],[-4.87,-5.2],[-5.88,-5.86],
[-5.0,-5.0],[-4.95,-5.3],[-4.9,-4.7],[-4.85,-5.1],[-4.8,-4.55],[-4.75,-4.9],[-4.7,-5.25],[-4.65,-4.4],[-4.6,-4.75],[-4.55,-5.1],[-4.5,-4.25],[-4.45,-4.6],[-4.4,-4.95],[-4.35,-4.1],[-4.3,-4.45],[-4.25,-4.8],[-4.2,-3.95],[-4.15,-4.3],[-4.1,-4.65],[-4.05,-3.8],[-4.0,-4.15],[-3.95,-4.5],[-3.9,-3.6],[-3.85,-3.95],[-3.8,-4.3],[-3.75,-3.45],[-3.7,-3.8],[-3.65,-4.15],[-3.6,-3.3],[-3.55,-3.65],[-3.5,-4.0],[-3.45,-3.1],[-3.4,-3.5],[-3.35,-3.85],[-3.3,-2.95],[-3.25,-3.3],[-3.2,-3.65],[-3.15,-2.75],[-3.1,-3.1],[-3.05,-3.45],[-3.0,-2.55],[-2.95,-2.9],[-2.9,-3.25],[-2.85,-2.35],[-2.8,-2.7],[-2.75,-3.05],[-2.7,-2.15],[-2.65,-2.5],[-2.6,-2.85],[-2.55,-1.95],[-2.5,-2.3],[-2.45,-2.6],[-2.4,-1.75],[-2.35,-2.1],[-2.3,-2.4],[-2.25,-1.55],[-2.2,-1.9],[-2.15,-2.2],[-2.1,-1.4],[-2.05,-1.7],[-2.0,-1.95],[-1.95,-1.1],[-1.9,-1.45],[-1.85,-1.75],[-1.8,-0.9],[-1.75,-1.25],[-1.7,-1.5],[-1.65,-0.7],[-1.6,-1.0],[-1.55,-1.3],[-1.5,-0.6],[-1.45,-0.85],[-1.4,-1.15],[-1.35,-0.7],[-1.3,-0.95],[-1.25,-0.6],[-1.2,-0.8],[-1.15,-0.65],[-1.1,-0.55],[-1.05,-0.75],[-1.6,-0.6],[-1.9,-0.7],[-2.1,-0.9],[-2.3,-1.2],[-2.0,-1.3],[-1.7,-0.8],[-4.6,-5.3],[-4.3,-5.0],[-4.0,-4.7],[-3.7,-4.4],[-3.4,-4.0],[-3.1,-3.6],[-2.8,-3.2],[-2.5,-2.8],[-2.2,-2.45],[-1.9,-2.0],[-1.6,-1.6],
[-4.9,-4.85],[-4.8,-5.05],[-4.7,-4.7],[-4.6,-4.95],[-4.5,-4.55],[-4.4,-4.75],[-4.3,-4.35],[-4.2,-4.6],[-4.1,-4.2],[-4.0,-4.4],[-3.9,-4.05],[-3.8,-4.2],[-3.7,-3.85],[-3.6,-4.0],[-3.5,-3.6],[-3.4,-3.8],[-3.3,-3.4],[-3.2,-3.55],[-3.1,-3.2],[-3.0,-3.3],[-2.9,-2.85],[-2.8,-3.0],[-2.7,-2.6],[-2.6,-2.7],[-2.5,-2.3],[-2.4,-2.45],[-2.3,-2.05],[-2.2,-2.15],[-2.1,-1.75],[-2.0,-1.85],[-1.9,-1.55],[-1.8,-1.6],[-1.7,-1.2],[-1.6,-1.35],[-1.5,-1.0],[-1.4,-1.05],[-1.3,-0.75],[-1.25,-0.9],[-1.15,-0.55],[-1.1,-0.7],[-4.75,-5.2],[-4.55,-4.35],[-4.35,-4.9],[-4.15,-4.0],[-3.95,-4.6],[-3.75,-3.6],[-3.55,-4.2],[-3.35,-3.2],[-3.15,-3.75],[-2.95,-2.6],[-2.75,-3.15],[-2.55,-2.1],[-2.35,-2.6],[-2.15,-1.6],[-1.95,-2.0],[-1.75,-1.05],[-1.55,-1.5],[-1.35,-0.55],[-2.0,-1.05],[-1.8,-0.65],[-1.6,-0.75],[-1.4,-0.65],[-1.25,-0.5],[-2.25,-1.3],[-2.45,-1.5],[-2.05,-0.75],[-1.95,-0.6],[-2.2,-0.55],[-2.5,-0.6],[-2.4,-0.75],[-2.7,-1.2],[-2.9,-1.25],[-2.65,-1.0],[-1.7,-0.55],[-1.5,-0.55]];

var varPts4 = [[-5.89,-6.64],[-6.02,-6.42],[-6.02,-6.29],[-6.02,-6.18],[-5.86,-5.86],[-5.73,-6.09],[-5.56,-5.89],[-5.43,-6.02],[-5.3,-6.05],[-5.59,-5.56],[-5.33,-5.63],[-5.2,-5.7],[-5.07,-4.91],[-5.2,-5.17],[-5.14,-5.43],[-5.0,-5.37],[-4.87,-5.3],[-4.74,-5.17],[-4.68,-4.52],[-4.78,-4.61],[-4.48,-4.25],[-4.09,-4.84],[-3.93,-3.7],[-3.05,-2.85],[-1.31,-1.74],[-0.53,-0.92],[-0.6,-0.78],
[-4.95,-5.1],[-4.9,-4.85],[-4.85,-5.25],[-4.8,-4.95],[-4.75,-4.7],[-4.7,-5.1],[-4.65,-4.85],[-4.6,-4.6],[-4.55,-5.0],[-4.5,-4.75],[-4.45,-4.5],[-4.4,-4.9],[-4.35,-4.65],[-4.3,-4.4],[-4.25,-4.8],[-4.2,-4.55],[-4.15,-4.3],[-4.1,-4.65],[-4.05,-4.4],[-4.0,-4.15],[-3.95,-4.55],[-3.9,-4.3],[-3.85,-4.05],[-3.8,-4.45],[-3.75,-4.2],[-3.7,-3.95],[-3.65,-4.3],[-3.6,-4.05],[-3.55,-3.8],[-3.5,-4.15],[-3.45,-3.9],[-3.4,-3.65],[-3.35,-4.0],[-3.3,-3.75],[-3.25,-3.5],[-3.2,-3.85],[-3.15,-3.6],[-3.1,-3.35],[-3.05,-3.7],[-3.0,-3.45],[-2.95,-3.2],[-2.9,-3.55],[-2.85,-3.3],[-2.8,-3.05],[-2.75,-3.4],[-2.7,-3.15],[-2.65,-2.9],[-2.6,-3.25],[-2.55,-3.0],[-2.5,-2.75],[-2.45,-3.1],[-2.4,-2.85],[-2.35,-2.6],[-2.3,-2.95],[-2.25,-2.7],[-2.2,-2.45],[-2.15,-2.8],[-2.1,-2.55],[-2.05,-2.3],[-2.0,-2.65],[-1.95,-2.4],[-1.9,-2.15],[-1.85,-2.45],[-1.8,-2.2],[-1.75,-1.95],[-1.7,-2.25],[-1.65,-2.0],[-1.6,-1.75],[-1.55,-2.05],[-1.5,-1.8],[-1.45,-1.55],[-1.4,-1.85],[-1.35,-1.6],[-1.3,-1.4],[-1.25,-1.65],[-1.2,-1.4],[-1.15,-1.2],[-1.1,-1.45],[-1.05,-1.2],[-1.0,-1.0],[-0.95,-1.25],[-0.9,-1.0],[-0.85,-0.85],[-0.8,-1.05],[-0.75,-0.8],[-0.7,-0.7],[-0.65,-0.85],[-0.6,-0.62],[-0.57,-0.55],[-0.55,-0.72],[-0.52,-0.6],
[-5.2,-5.45],[-5.1,-5.2],[-4.0,-4.5],[-3.6,-3.7],[-3.0,-3.15],[-2.6,-2.7],[-2.2,-2.25],[-1.9,-1.95],[-1.5,-1.5],[-1.0,-1.12],[-3.4,-3.45],[-2.4,-2.45],[-4.4,-4.45],[-4.8,-5.4],[-4.2,-4.95],[-3.8,-4.6],[-3.2,-4.0],[-2.8,-3.5],[-2.3,-3.0],[-1.8,-2.5],[-1.3,-1.95],
[-4.97,-5.3],[-4.83,-5.05],[-4.68,-4.95],[-4.53,-4.8],[-4.38,-4.7],[-4.23,-4.5],[-4.08,-4.35],[-3.93,-4.2],[-3.78,-4.05],[-3.63,-3.9],[-3.48,-3.75],[-3.33,-3.6],[-3.18,-3.45],[-3.03,-3.3],[-2.88,-3.15],[-2.73,-3.0],[-2.58,-2.85],[-2.43,-2.7],[-2.28,-2.55],[-2.13,-2.4],[-1.98,-2.25],[-1.83,-2.1],[-1.68,-1.95],[-1.53,-1.8],[-1.38,-1.65],[-1.23,-1.5],[-1.08,-1.35],[-0.93,-1.15],[-0.78,-0.95],[-0.63,-0.75],[-4.9,-5.45],[-4.6,-5.1],[-4.3,-4.85],[-4.0,-4.6],[-3.7,-4.3],[-3.4,-3.95],[-3.1,-3.65],[-2.8,-3.3],[-2.5,-3.0],[-2.2,-2.7],[-1.9,-2.35],[-1.6,-2.1],[-1.3,-1.75],[-1.0,-1.4],[-0.7,-1.0],[-4.45,-4.55],[-3.85,-3.9],[-3.25,-3.3],[-2.65,-2.7],[-2.05,-2.1],[-1.45,-1.5],[-0.85,-0.9],[-0.62,-0.68],[-0.55,-0.6],[-0.58,-0.85]];

var meanPts = [meanPts1, meanPts2, meanPts3, meanPts4];
var varPts = [varPts1, varPts2, varPts3, varPts4];

var ink = '#262626', blue = '#0072BD', orange = '#D95319', serif = 'Liberation Serif';
var colLeft = [929, 1417, 1905, 2393];

var rich = {
    t: {fontFamily: serif, fontSize: 35, color: ink},
    ts: {fontFamily: serif, fontSize: 26, color: ink, padding: [0, 0, 20, 0]},
    nm: {fontFamily: serif, fontSize: 40, color: ink},
    nms: {fontFamily: serif, fontSize: 27, color: ink, padding: [0, 0, 14, 0]}
};

var grid = [], xAxis = [], yAxis = [], series = [];

function lin(v) { return String(v); }
function pow10(v) { return '{t|10 }{ts|' + Math.round(v) + '}'; }

// log10 positions of the 1..9 x 10^k ticks inside [lo, hi]
function logTicks(lo, hi) {
    var out = [];
    for (var e = Math.floor(lo); e <= Math.ceil(hi); e++) {
        for (var k = 1; k < 10; k++) {
            var v = e + Math.log10(k);
            if (v >= lo - 1e-9 && v <= hi + 1e-9) out.push(v);
        }
    }
    return out;
}

function axis(gi, pos, o, main) {
    return {
        type: 'value', gridIndex: gi, position: pos, min: o.min, max: o.max,
        axisLine: {show: true, onZero: false, lineStyle: {color: ink, width: 1.5}},
        axisTick: {show: true, inside: true, length: 5, customValues: o.ticks, lineStyle: {color: ink, width: 1.5}},
        axisLabel: {show: main, customValues: o.labels, formatter: o.fmt, margin: o.margin,
            color: ink, fontFamily: serif, fontSize: o.fs || 33, rich: rich},
        splitLine: {show: false},
        name: main && o.name ? o.name : '',
        nameLocation: 'middle', nameGap: o.gap,
        nameTextStyle: {fontFamily: serif, fontSize: o.nfs || 40, color: ink, rich: rich},
        silent: true
    };
}

function panel(box, xo, yo) {
    var gi = grid.length;
    grid.push({left: box[0], top: box[1], width: box[2], height: box[3]});
    xAxis.push(axis(gi, 'bottom', xo, true), axis(gi, 'top', xo, false));
    yAxis.push(axis(gi, 'left', yo, true), axis(gi, 'right', yo, false));
    return {x: xAxis.length - 2, y: yAxis.length - 2};
}

function tName(t, tight) {
    var e = Math.floor(Math.log10(t) + 1e-9);
    var m = (t / Math.pow(10, e)).toFixed(1);
    return '{nm|T ' + (tight ? '=' : '= ') + m + ' · 10}{nms|' + e + '}';
}

var tLo = Math.log10(T[0]), tHi = Math.log10(T[T.length - 1]);
var tAxis = {min: tLo, max: tHi, ticks: logTicks(tLo, tHi), labels: decadesT, fmt: pow10,
    margin: 18, fs: 35, name: 'T', gap: 70, nfs: 38};

// --- Pearson vs T
var a0 = panel([439, 119, 313, 308], tAxis,
    {min: 0.5, max: 1, ticks: pearsonTicks, labels: pearsonTicks, fmt: lin, margin: 26, fs: 36,
        name: 'Pearson', gap: 85, nfs: 44});
series.push({
    name: 'Mean', type: 'line', xAxisIndex: a0.x, yAxisIndex: a0.y, clip: false,
    data: T.map(function (t, i) { return [Math.log10(t), pearsonMean[i]]; }),
    symbol: 'rect', symbolSize: 16, lineStyle: {color: blue, width: 4},
    itemStyle: {color: 'rgba(0,0,0,0)', borderColor: blue, borderWidth: 4}
}, {
    name: 'Variance', type: 'line', xAxisIndex: a0.x, yAxisIndex: a0.y, clip: false,
    data: T.map(function (t, i) { return [Math.log10(t), pearsonVar[i]]; }),
    symbol: 'circle', symbolSize: 18, lineStyle: {color: orange, width: 4},
    itemStyle: {color: 'rgba(0,0,0,0)', borderColor: orange, borderWidth: 4}
});

// --- run time vs T
var yLo = Math.log10(timeHR[0]), yHi = Math.log10(timeHR[timeHR.length - 1]);
var a5 = panel([439, 599, 313, 313], tAxis,
    {min: yLo, max: yHi, ticks: logTicks(yLo, yHi), labels: decadesTime, fmt: pow10, margin: 17, fs: 35,
        name: 'Time [s]', gap: 94, nfs: 44});
series.push({
    name: 'HR', type: 'line', xAxisIndex: a5.x, yAxisIndex: a5.y, clip: false,
    data: T.map(function (t, i) { return [Math.log10(t), Math.log10(timeHR[i])]; }),
    symbol: 'rect', symbolSize: 18, lineStyle: {color: blue, width: 4},
    itemStyle: {color: 'rgba(0,0,0,0)', borderColor: blue, borderWidth: 4}
}, {
    name: 'EP', type: 'line', xAxisIndex: a5.x, yAxisIndex: a5.y, clip: false,
    data: T.map(function (t, i) { return [Math.log10(t), Math.log10(timeEP[i])]; }),
    symbol: 'circle', showSymbol: false, lineStyle: {color: orange, width: 3.5},
    itemStyle: {color: 'rgba(0,0,0,0)', borderWidth: 0}
});

function scatter(ax, pts) {
    series.push({
        type: 'scatter', xAxisIndex: ax.x, yAxisIndex: ax.y, data: pts, clip: false, silent: true,
        symbol: 'circle', symbolSize: 11, z: 2,
        itemStyle: {color: 'rgba(0,0,0,0)', borderColor: blue, borderWidth: 1.8}
    });
}
function diag(ax, lo, hi) {
    series.push({
        type: 'line', xAxisIndex: ax.x, yAxisIndex: ax.y, data: [[lo, lo], [hi, hi]], silent: true,
        symbol: 'none', z: 3, lineStyle: {color: orange, width: 2.5}
    });
}

// --- scatter panels
for (var i = 0; i < 4; i++) {
    var mx = {min: meanLim[0], max: meanLim[1], ticks: meanTicks, labels: meanTicks, fmt: lin, margin: 20, fs: 33,
        name: tName(T[i], false), gap: 60};
    var my = {min: meanLim[0], max: meanLim[1], ticks: meanTicks, labels: meanTicks, fmt: lin, margin: 29, fs: 33,
        name: i === 0 ? 'Mean, EP' : '', gap: 99, nfs: 44};
    var am = panel([colLeft[i], 120, 313, 312], mx, my);
    scatter(am, meanPts[i]);
    diag(am, meanLim[0], meanLim[1]);

    var lim = varLim[i];
    var vx = {min: lim[0], max: lim[1], ticks: varTicks[i], labels: varTicks[i], fmt: pow10, margin: 18, fs: 33,
        name: tName(T[i], true), gap: 70};
    var vy = {min: lim[0], max: lim[1], ticks: varTicks[i], labels: varTicks[i], fmt: pow10, margin: 17, fs: 33,
        name: i === 0 ? 'Variance, EP' : '', gap: 102, nfs: 44};
    var av = panel([colLeft[i], 599, 313, 313], vx, vy);
    scatter(av, varPts[i]);
    diag(av, lim[0], lim[1]);
}

var legendBase = {
    orient: 'vertical', itemWidth: 66, itemHeight: 22, itemGap: 9, selectedMode: false,
    borderColor: ink, borderWidth: 1.5, backgroundColor: '#fff',
    textStyle: {fontFamily: serif, fontSize: 25, color: '#000'}
};

var chart = echarts.init(document.getElementById('container'), null, {renderer: 'canvas'});
chart.setOption({
    animation: false,
    backgroundColor: '#fff',
    title: [{
        text: 'Homo Sapiens | RECON1 | N = 2469 | M = 1587',
        left: 1428, top: 46, textAlign: 'center',
        textStyle: {fontFamily: serif, fontSize: 52, fontWeight: 'normal', color: '#000'}
    }, {
        text: '2c', left: 302, top: 56,
        textStyle: {fontFamily: serif, fontSize: 50, fontWeight: 'normal', color: '#000'}
    }],
    legend: [
        Object.assign({}, legendBase, {data: ['Mean', 'Variance'], left: 533, top: 338, padding: [8, 34, 8, 10]}),
        Object.assign({}, legendBase, {data: ['HR', 'EP'], left: 461, top: 620, padding: [8, 8, 8, 8]})
    ],
    grid: grid,
    xAxis: xAxis,
    yAxis: yAxis,
    series: series
});
</script>
</body>
</html>
